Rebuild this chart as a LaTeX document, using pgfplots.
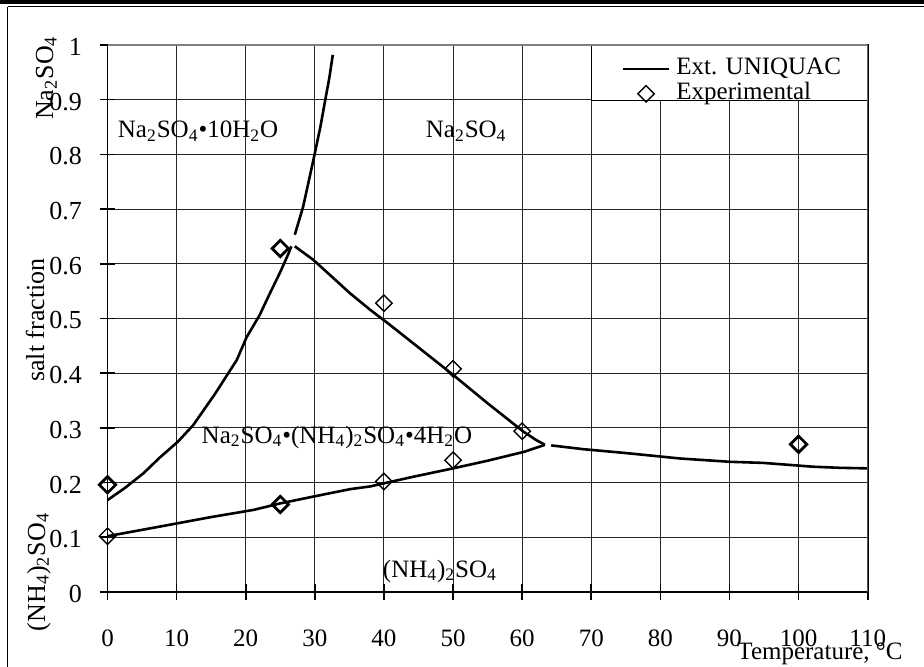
\documentclass[border=0pt]{standalone}
\usepackage{fontspec}
\setmainfont{Liberation Serif}
\usepackage{pgfplots}
\pgfplotsset{compat=1.18}
\newcommand\fs{\fontsize{12.5}{15}\selectfont}
\newcommand\fsy{\fontsize{13}{15}\selectfont}
\newcommand\sub[1]{\textsubscript{#1}}
\begin{document}
\begin{tikzpicture}
\path[use as bounding box] (0,0) rectangle (462pt,333.5pt);
\begin{axis}[
 at={(53.75pt,37.5pt)}, anchor=south west, scale only axis,
 width=380.1pt, height=273.5pt,
 xmin=0, xmax=110, ymin=0, ymax=1,
 xtick={0,10,...,110},
 ytick={0,0.1,0.2,0.3,0.4,0.5,0.6,0.7,0.8,0.9,1},
 yticklabels={0,0.1,0.2,0.3,0.4,0.5,0.6,0.7,0.8,0.9,1},
 grid=major, major grid style={black!85, line width=0.5pt},
 tick align=center, major tick length=8pt, tick style={black, line width=0.8pt},
 tick pos=left,
 axis line style={black, line width=0.8pt},
 /pgf/number format/assume math mode=true,
 xticklabel style={font=\fs, yshift=-11.3pt},
 yticklabel style={font=\fsy, xshift=-5.3pt, yshift=-1pt},
 legend style={draw=none, fill=none, at={(0.676,0.980)}, anchor=north west,
   font=\fs, inner sep=0pt, row sep=0pt, column sep=2.5pt,
   nodes={inner sep=0.5pt, text height=8.5pt, text depth=3pt}},
 legend cell align=left,
]
% legend box
\draw[black, line width=0.5pt, fill=white] (rel axis cs:0.637,0.898) rectangle (rel axis cs:1,1);

% Ext. UNIQUAC curves
\addplot[black, line width=1.3pt, legend image code/.code={\draw[black, line width=1.3pt] (0pt,0pt) -- (23pt,0pt);}] coordinates {
 (0,0.168) (2.5,0.190) (5.2,0.217) (7.5,0.245) (10.2,0.275) (12.4,0.305)
 (15.6,0.363) (18.7,0.424) (20.1,0.465) (22,0.506) (23.5,0.546) (25,0.585)
 (26.2,0.619) (26.6,0.632)};
\addlegendentry{Ext. UNIQUAC}
\addplot[black, line width=1.3pt, forget plot] coordinates {
 (27.1,0.653) (28.3,0.704) (29.1,0.750) (30.0,0.802) (30.8,0.850)
 (31.5,0.899) (32.1,0.940) (32.6,0.982)};
\addplot[black, line width=1.3pt, forget plot] coordinates {
 (27.1,0.632) (29.8,0.607) (35.1,0.546) (38,0.516) (40.9,0.488) (45,0.447)
 (50,0.397) (55,0.345) (60.2,0.293) (62,0.278) (63.3,0.269)};
\addplot[black, line width=1.3pt, forget plot] coordinates {
 (0,0.102) (8.6,0.122) (15,0.137) (21.1,0.150) (25,0.162) (30,0.175)
 (35.1,0.188) (38,0.193) (44,0.210) (50,0.226) (55,0.240) (60.2,0.256) (63.3,0.269)};
\addplot[black, line width=1.3pt, forget plot] coordinates {
 (64.2,0.268) (68.9,0.261) (75,0.254) (82.9,0.244) (90.1,0.238) (94.9,0.236)
 (98,0.233) (102.1,0.229) (106,0.227) (110,0.226)};

% Experimental points
\addplot[only marks, mark=square, mark size=2.9pt,
  mark options={rotate=45, fill=white, draw=black, line width=0.7pt},
  legend image code/.code={\draw[black, line width=0.7pt, fill=white] plot[mark=square, mark size=2.9pt, mark options={rotate=45}] coordinates {(11.5pt,0pt)};}]
 coordinates {(0,0.102) (40,0.528) (40,0.202) (50,0.408) (50,0.241) (60,0.294)};
\addlegendentry{Experimental}
\addplot[only marks, mark=square, mark size=2.9pt, forget plot,
  mark options={rotate=45, fill=white, draw=black, line width=1.4pt}]
 coordinates {(0,0.196) (25,0.628) (25,0.160) (100,0.270)};

% region labels
\node[font=\fs, anchor=base] at (axis cs:13.1,0.830) {Na\sub{2}SO\sub{4}\textbullet10H\sub{2}O};
\node[font=\fs, anchor=base] at (axis cs:51.9,0.830) {Na\sub{2}SO\sub{4}};
\node[font=\fs, anchor=base] at (axis cs:33.2,0.272) {Na\sub{2}SO\sub{4}\textbullet(NH\sub{4})\sub{2}SO\sub{4}\textbullet4H\sub{2}O};
\node[font=\fs, anchor=base] at (axis cs:48.1,0.027) {(NH\sub{4})\sub{2}SO\sub{4}};

% frame: gray top/right
\draw[gray, line width=1.1pt] (rel axis cs:0,1) -- (rel axis cs:1,1) -- (rel axis cs:1,0);
\end{axis}
% outer labels
\node[font=\fsy, rotate=90, anchor=base] at (26.5pt,294.5pt) {Na\sub{2}SO\sub{4}};
\node[font=\fsy, rotate=90, anchor=base] at (22pt,173.5pt) {salt fraction};
\node[font=\fsy, rotate=90, anchor=base] at (22.5pt,47.5pt) {(NH\sub{4})\sub{2}SO\sub{4}};
\node[font=\fs, anchor=base] at (410pt,3.5pt) {Temperature, \textdegree C};
% figure frame
\draw[line width=2pt] (0,332.5pt) -- (462pt,332.5pt);
\draw[line width=0.5pt] (3.75pt,330.15pt) -- (462pt,330.15pt);
\draw[line width=0.5pt] (3.75pt,330.15pt) -- (3.75pt,0pt);
\end{tikzpicture}
\end{document}
